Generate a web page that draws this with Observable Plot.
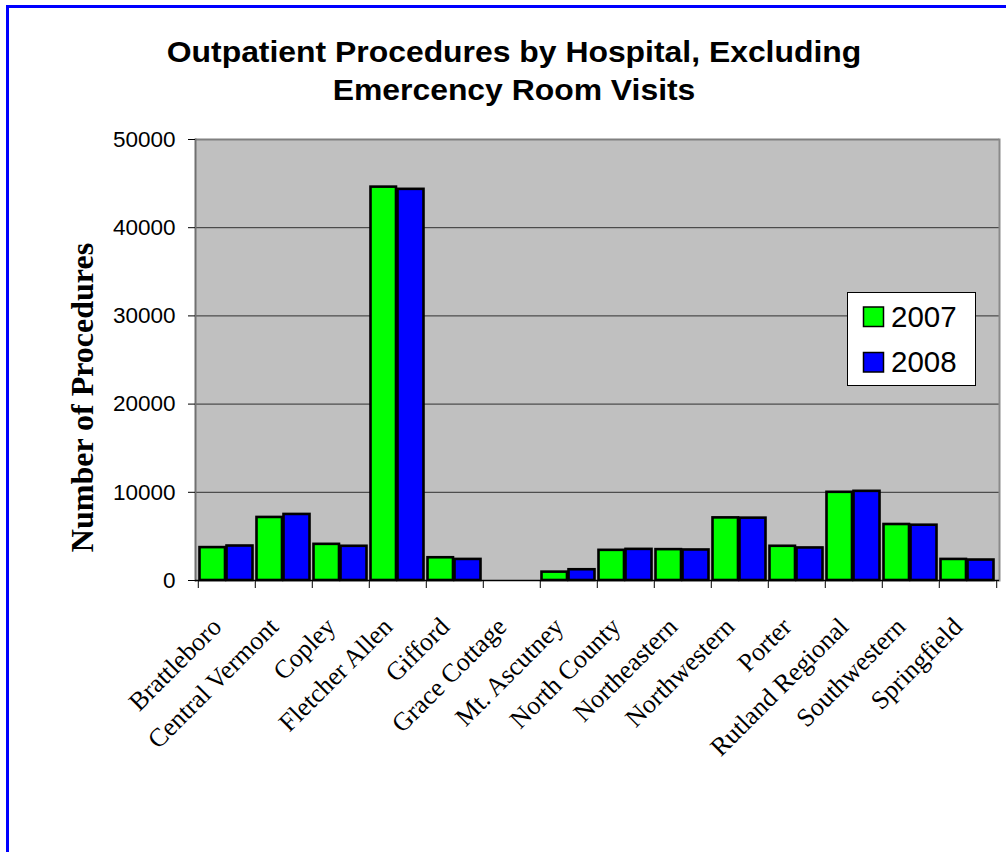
<!DOCTYPE html>
<html>
<head>
<meta charset="utf-8">
<script src="https://cdn.jsdelivr.net/npm/d3@7"></script>
<script src="https://cdn.jsdelivr.net/npm/@observablehq/plot@0.6"></script>
<style>
  html, body { margin: 0; padding: 0; background: #ffffff; }
  body { width: 1006px; height: 852px; position: relative; overflow: hidden; }
  #frameBorder { position: absolute; left: 6px; top: 5px; width: 1100px; height: 900px;
    border-left: 3px solid #0000ff; border-top: 3px solid #0000ff; box-sizing: border-box; }
  #chart { position: absolute; left: 0; top: 120px; }
  #overlay { position: absolute; left: 0; top: 0; pointer-events: none; }
</style>
</head>
<body>
<div id="frameBorder"></div>
<div id="chart"></div>
<svg id="overlay" width="1006" height="852"></svg>
<script>
// ---- data ----
const titleLines = ["Outpatient Procedures by Hospital, Excluding", "Emercency Room Visits"];
const yLabel = "Number of Procedures";
const hospitals = ["Brattleboro", "Central Vermont", "Copley", "Fletcher Allen", "Gifford",
  "Grace Cottage", "Mt. Ascutney", "North County", "Northeastern", "Northwestern", "Porter",
  "Rutland Regional", "Southwestern", "Springfield"];
const values2007 = [3730, 7150, 4100, 44600, 2580, null, 950, 3420, 3500, 7100, 3880, 10000, 6350, 2390];
const values2008 = [3910, 7490, 3880, 44350, 2390, null, 1220, 3530, 3460, 7070, 3690, 10110, 6270, 2320];
const years = ["2007", "2008"];
const yearColors = ["#00ff00", "#0000ff"];
const yTicks = [0, 10000, 20000, 30000, 40000, 50000];
const gridTicks = [10000, 20000, 30000, 40000];

// ---- layout ----
const W = 1006, H = 732;
const mL = 195, mR = 7, mT = 19, mB = 272;
const bw = (W - mL - mR) / hospitals.length;

const rows2007 = hospitals.map((h, i) => ({hospital: h, year: years[0], value: values2007[i]}));
const rows2008 = hospitals.map((h, i) => ({hospital: h, year: years[1], value: values2008[i]}));

const chart = Plot.plot({
  width: W, height: H,
  marginLeft: mL, marginRight: mR, marginTop: mT, marginBottom: mB,
  style: {fontFamily: "'Liberation Sans', Arial, sans-serif", fontSize: "22px", background: "transparent", color: "#000", overflow: "visible"},
  x: {type: "band", domain: hospitals, padding: 0, axis: null},
  y: {domain: [0, 50000], axis: null},
  marks: [
    Plot.frame({fill: "#c0c0c0", stroke: null}),
    Plot.ruleY(gridTicks, {stroke: "#303030", strokeWidth: 1}),
    Plot.ruleY([50000], {stroke: "#808080", strokeWidth: 2}),
    Plot.frame({anchor: "left", stroke: "#707070", strokeWidth: 2}),
    Plot.frame({anchor: "right", stroke: "#8a8a8a", strokeWidth: 2}),
    Plot.barY(rows2007.filter(d => d.value != null), {x: "hospital", y: "value", fill: yearColors[0],
      stroke: "#000", strokeWidth: 2.6, insetLeft: 1.5, insetRight: bw / 2 + 1.3}),
    Plot.barY(rows2008.filter(d => d.value != null), {x: "hospital", y: "value", fill: yearColors[1],
      stroke: "#000", strokeWidth: 2.6, insetLeft: bw / 2 - 0.2, insetRight: 2.5}),
    Plot.ruleY([0], {stroke: "#000", strokeWidth: 1.5}),
    // x tick marks at category boundaries
    Plot.ruleX(hospitals, {x: d => d, y1: 0, y2: 0, insetBottom: -8, dx: -bw / 2, stroke: "#000", strokeWidth: 1}),
    Plot.ruleX(hospitals.slice(-1), {x: d => d, y1: 0, y2: 0, insetBottom: -8, dx: bw / 2, stroke: "#000", strokeWidth: 1}),
    Plot.axisY({ticks: yTicks, tickSize: 7, tickPadding: 13, tickFormat: d => String(d), fontSize: 22.5,
      fontFamily: "'Liberation Sans', Arial, sans-serif", label: null}),
    Plot.text(hospitals, {x: d => d, frameAnchor: "bottom", text: d => d, rotate: -45,
      textAnchor: "end", lineAnchor: "middle", dx: -10, dy: 42, fontSize: 26,
      fontFamily: "'Liberation Serif', 'Times New Roman', serif", fill: "#000"})
  ]
});
document.getElementById("chart").appendChild(chart);

// ---- overlay: title, y label, legend ----
const ov = d3.select("#overlay");
ov.selectAll("text.title").data(titleLines).join("text")
  .attr("class", "title")
  .attr("transform", (d, i) => `translate(514,${62 + i * 38}) scale(1.1,1)`)
  .attr("text-anchor", "middle")
  .style("font-family", "'Liberation Sans', Arial, sans-serif")
  .style("font-weight", "bold").style("font-size", "29px")
  .text(d => d);

ov.append("text")
  .attr("transform", "translate(93,397.5) rotate(-90)")
  .attr("text-anchor", "middle")
  .style("font-family", "'Liberation Serif', 'Times New Roman', serif")
  .style("font-weight", "bold").style("font-size", "32px")
  .text(yLabel);

const lg = ov.append("g").attr("transform", "translate(847,292)");
lg.append("rect").attr("x", 0.5).attr("y", 0.5).attr("width", 128).attr("height", 93)
  .attr("fill", "#fff").attr("stroke", "#000").attr("stroke-width", 1);
const item = lg.selectAll("g.item").data(years).join("g").attr("class", "item")
  .attr("transform", (d, i) => `translate(0,${i * 45.5})`);
item.append("rect").attr("x", 16.5).attr("y", 15).attr("width", 20).attr("height", 19.5)
  .attr("fill", (d, i) => yearColors[i]).attr("stroke", "#000").attr("stroke-width", 1.5);
item.append("text").attr("x", 44).attr("y", 34.5)
  .style("font-family", "'Liberation Sans', Arial, sans-serif").style("font-size", "29.5px")
  .text(d => d);
</script>
</body>
</html>
